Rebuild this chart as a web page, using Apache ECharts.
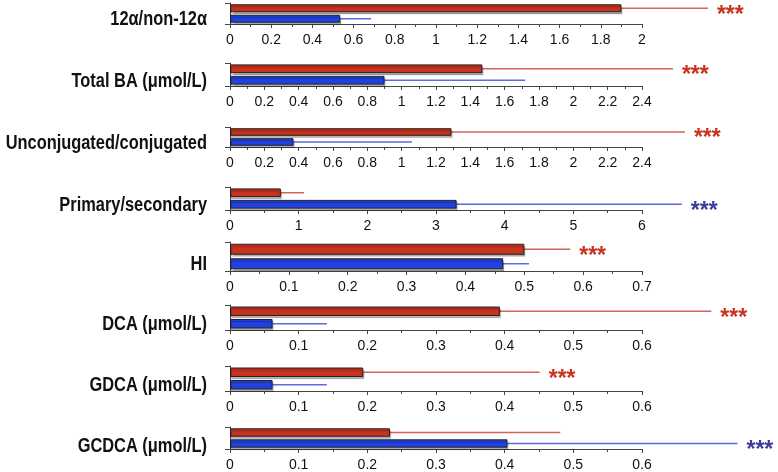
<!DOCTYPE html>
<html><head><meta charset="utf-8">
<script src="https://cdn.jsdelivr.net/npm/echarts@6/dist/echarts.min.js"></script>
<style>html,body{margin:0;padding:0;background:#fff}#c{width:778px;height:472px}</style>
</head><body><div id="c"></div>
<script>
// ---- data ----
const panelLabels = ['12α/non-12α','Total BA (μmol/L)','Unconjugated/conjugated','Primary/secondary','HI','DCA (μmol/L)','GDCA (μmol/L)','GCDCA (μmol/L)'];
const axisMax      = [2, 2.4, 2.4, 6, 0.7, 0.6, 0.6, 0.6];
const axisInterval = [0.2, 0.2, 0.2, 1, 0.1, 0.1, 0.1, 0.1];
const redMean  = [1.90, 1.47, 1.29, 0.74, 0.50, 0.393, 0.194, 0.233];
const redErr   = [2.32, 2.58, 2.65, 1.08, 0.578, 0.701, 0.451, 0.481];
const blueMean = [0.535, 0.90, 0.37, 3.30, 0.464, 0.062, 0.062, 0.404];
const blueErr  = [0.685, 1.72, 1.06, 6.58, 0.508, 0.141, 0.141, 0.739];
const sigGroup = ['red','red','red','blue','red','red','red','blue'];
const sigText  = ['***','***','***','***','***','***','***','***'];

// ---- layout ----
const gridLeft = 230, gridWidth = 412;
const panelTop    = [3, 63, 127, 187, 242, 305, 366, 427];
const panelBottom = [24, 86, 147, 210, 271, 330, 391, 452];

const RED = '#c8321e', BLUE = '#2142e0';
const RED_ERR = '#d4645a', BLUE_ERR = '#5b6be6';
const RED_STAR = '#c8321e', BLUE_STAR = '#3c3c9c';
const FONT = '"Liberation Sans", Arial, sans-serif';

const grids = [], xAxes = [], yAxes = [], series = [], graphics = [];
panelLabels.forEach((lab, i) => {
  const h = panelBottom[i] - panelTop[i];
  grids.push({left: gridLeft, width: gridWidth, top: panelTop[i], height: h});
  xAxes.push({
    type: 'value', gridIndex: i, min: 0, max: axisMax[i], interval: axisInterval[i],
    axisLine: {show: true, lineStyle: {color: '#444', width: 1}},
    axisTick: {show: true, length: 4, lineStyle: {color: '#444'}},
    minorTick: {show: true, splitNumber: 2, length: 3, lineStyle: {color: '#444'}},
    splitLine: {show: false},
    axisLabel: {color: '#111', fontSize: 14, fontFamily: FONT, margin: 9}
  });
  yAxes.push({
    type: 'category', gridIndex: i, data: ['Blue', 'Red'],
    axisLine: {show: true, lineStyle: {color: '#444'}},
    axisTick: {show: true, length: 5, lineStyle: {color: '#444'}},
    axisLabel: {show: false}
  });
  series.push({
    type: 'bar', xAxisIndex: i, yAxisIndex: i, barCategoryGap: '24%',
    data: [
      {value: blueMean[i], itemStyle: {color: BLUE}},
      {value: redMean[i], itemStyle: {color: RED}}
    ],
    itemStyle: {borderColor: '#222', borderWidth: 1,
      shadowColor: 'rgba(0,0,0,0.28)', shadowOffsetX: 1, shadowOffsetY: 2, shadowBlur: 1},
    silent: true
  });
  series.push({
    type: 'custom', xAxisIndex: i, yAxisIndex: i, clip: false, silent: true,
    encode: {x: [0, 2], y: 1},
    data: [
      [blueMean[i], 0, blueErr[i]],
      [redMean[i], 1, redErr[i]]
    ],
    renderItem: (params, api) => {
      const idx = api.value(1);
      const p0 = api.coord([api.value(0), idx]);
      const p1 = api.coord([api.value(2), idx]);
      const isRed = idx === 1;
      const star = (sigGroup[i] === (isRed ? 'red' : 'blue')) ? sigText[i] : '';
      const children = [{
        type: 'line', shape: {x1: p0[0], y1: p0[1], x2: p1[0], y2: p1[1]},
        style: {stroke: isRed ? RED_ERR : BLUE_ERR, lineWidth: 1.5}
      }];
      if (star) children.push({
        type: 'text', x: p1[0] + 9, y: p1[1] + 7,
        style: {text: star, fill: isRed ? RED_STAR : BLUE_STAR, font: 'bold 23px "Liberation Sans", Arial, sans-serif',
          textAlign: 'left', textVerticalAlign: 'middle'}
      });
      return {type: 'group', children};
    }
  });
  graphics.push({
    type: 'text', x: 207, y: panelTop[i] + 0.75 * h + 1, scaleX: 0.82,
    style: {text: lab, fill: '#111', font: 'bold 20px ' + FONT, textAlign: 'right', textVerticalAlign: 'middle'}
  });
});

const chart = echarts.init(document.getElementById('c'), null, {renderer: 'canvas'});
chart.setOption({
  animation: false,
  grid: grids, xAxis: xAxes, yAxis: yAxes, series: series, graphic: graphics
});
</script></body></html>
